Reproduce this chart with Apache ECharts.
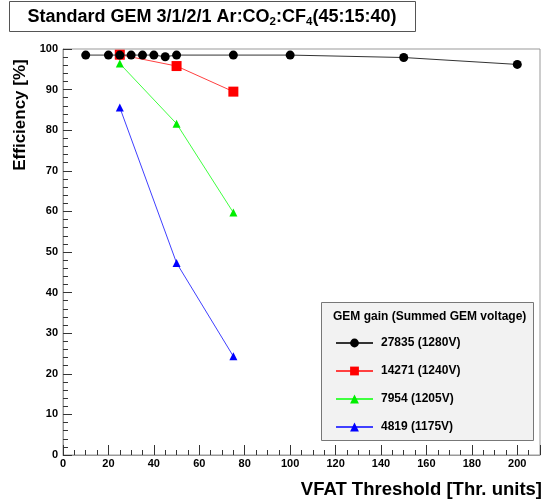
<!DOCTYPE html>
<html>
<head>
<meta charset="utf-8">
<script src="https://cdn.jsdelivr.net/npm/echarts@6/dist/echarts.min.js"></script>
<style>html,body{margin:0;padding:0;background:#fff}#c{width:543px;height:504px}</style>
</head>
<body>
<div id="c"></div>
<script>
const seriesNames = ['27835 (1280V)', '14271 (1240V)', '7954 (1205V)', '4819 (1175V)'];
const xBlack = [10, 20, 25, 30, 35, 40, 45, 50, 75, 100, 150, 200];
const yBlack = [98.5, 98.5, 98.5, 98.5, 98.5, 98.5, 98.1, 98.5, 98.5, 98.5, 97.9, 96.2];
const xRed = [25, 50, 75];
const yRed = [98.6, 95.8, 89.5];
const xGreen = [25, 50, 75];
const yGreen = [96.4, 81.6, 59.7];
const xBlue = [25, 50, 75];
const yBlue = [85.6, 47.3, 24.3];
const colors = ['#000000', '#ff0000', '#00ee00', '#0000ff'];
const lineColors = ['#333333', '#ff4040', '#40ff40', '#4040ff'];
const symbols = ['circle', 'rect', 'triangle', 'triangle'];
const symbolSizes = [9, 10, 8, 8];

const FONT = 'Liberation Sans, Arial, sans-serif';
const pairs = (xs, ys) => xs.map((x, i) => [x, ys[i]]);
const allData = [pairs(xBlack, yBlack), pairs(xRed, yRed), pairs(xGreen, yGreen), pairs(xBlue, yBlue)];

const chart = echarts.init(document.getElementById('c'));
chart.setOption({
  animation: false,
  backgroundColor: '#ffffff',
  grid: { left: 63, top: 49, width: 482, height: 406, show: true, borderColor: '#999999', borderWidth: 1, backgroundColor: 'transparent' },
  xAxis: {
    type: 'value', min: 0, max: 210, interval: 20,
    axisLine: { show: true, lineStyle: { color: '#999999', width: 1 } },
    axisTick: { show: true, inside: true, length: 10, lineStyle: { color: '#333' } },
    minorTick: { show: true, splitNumber: 4, length: 5, lineStyle: { color: '#333' } },
    axisLabel: { fontFamily: FONT, fontWeight: 'bold', fontSize: 11, color: '#000', margin: 3,
      formatter: v => (v <= 200 ? String(v) : '') },
    splitLine: { show: false }
  },
  yAxis: {
    type: 'value', min: 0, max: 100, interval: 10,
    axisLine: { show: true, lineStyle: { color: '#999999', width: 1 } },
    axisTick: { show: true, inside: true, length: 9, lineStyle: { color: '#333' } },
    minorTick: { show: true, splitNumber: 5, length: 5, lineStyle: { color: '#333' } },
    axisLabel: { fontFamily: FONT, fontWeight: 'bold', fontSize: 11, color: '#000', margin: 5 },
    splitLine: { show: false }
  },
  legend: {
    orient: 'vertical', left: 330, top: 331, itemGap: 14, itemWidth: 37, itemHeight: 11,
    data: seriesNames,
    textStyle: { fontFamily: FONT, fontWeight: 'bold', fontSize: 12, color: '#000', lineHeight: 14, padding: [0, 0, 0, 3] }
  },
  graphic: [
    { type: 'rect', shape: { x: 9.5, y: 1.5, width: 406, height: 30 }, style: { fill: '#fff', stroke: '#555', lineWidth: 1 }, z: 10 },
    { type: 'text', x: 212, y: 17, z: 11, style: {
        text: '{t|Standard GEM 3/1/2/1 Ar:CO}{s|2}{t|:CF}{s|4}{t|(45:15:40)}',
        align: 'center', verticalAlign: 'middle',
        rich: {
          t: { fontFamily: FONT, fontWeight: 'bold', fontSize: 18, fill: '#000' },
          s: { fontFamily: FONT, fontWeight: 'bold', fontSize: 11.5, fill: '#000', padding: [10, 0, 0, 0] }
        } } },
    { type: 'rect', shape: { x: 321.5, y: 302.5, width: 212, height: 138 }, style: { fill: '#f2f2f2', stroke: '#777', lineWidth: 1 }, z: 1 },
    { type: 'text', x: 333, y: 317, z: 11, style: { text: 'GEM gain (Summed GEM voltage)', fontFamily: FONT, fontWeight: 'bold', fontSize: 12, fill: '#000', verticalAlign: 'middle' } },
    { type: 'text', x: 20, y: 115, rotation: Math.PI / 2, z: 11, style: { text: 'Efficiency [%]', fontFamily: FONT, fontWeight: 'bold', fontSize: 17, fill: '#000', align: 'center', verticalAlign: 'middle' } },
    { type: 'text', x: 542, y: 490, z: 11, style: { text: 'VFAT Threshold [Thr. units]', fontFamily: FONT, fontWeight: 'bold', fontSize: 18.5, fill: '#000', align: 'right', verticalAlign: 'middle' } }
  ],
  series: seriesNames.map((name, i) => ({
    name, type: 'line', data: allData[i],
    symbol: symbols[i], symbolSize: symbolSizes[i],
    itemStyle: { color: colors[i] },
    lineStyle: { color: lineColors[i], width: 1 },
    z: 5 - i
  }))
});
</script>
</body>
</html>
